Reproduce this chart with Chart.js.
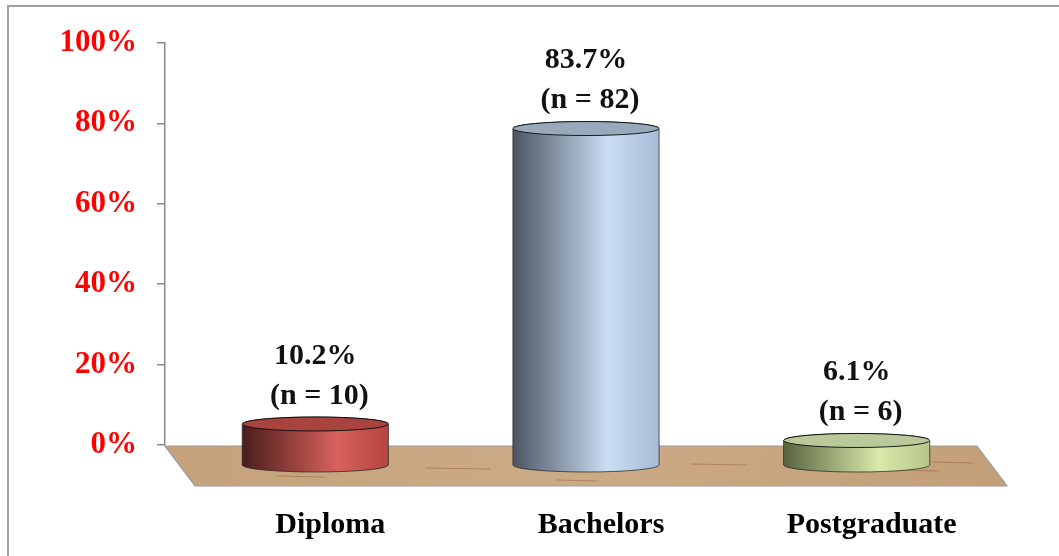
<!DOCTYPE html>
<html><head><meta charset="utf-8">
<script src="https://cdn.jsdelivr.net/npm/chart.js@4"></script>
<style>html,body{margin:0;padding:0;background:#fff}#wrap{width:1059px;height:556px;position:relative}</style>
</head><body><div id="wrap"><canvas id="c" width="1059" height="556"></canvas></div>
<script>
// ---- data ----
const categories = ['Diploma', 'Bachelors', 'Postgraduate'];
const percentages = [10.2, 83.7, 6.1];
const counts = [10, 82, 6];
const yTickValues = [0, 20, 40, 60, 80, 100];

// ---- styling ----
const FONT = '"Liberation Serif", "Times New Roman", serif';
const DX = 30, DY = 40; // floor depth
const cylColors = [
  {dark:'#4a1c1b', light:'#d8625c', edge:'#b4453f', top:'#a9433f'},
  {dark:'#4b5561', light:'#cadef4', edge:'#a6bbd5', top:'#98a9bc'},
  {dark:'#58633e', light:'#d9e9aa', edge:'#b6c68a', top:'#b9c999'}
];

const scene = {
  id: 'scene',
  beforeDraw(chart) {
    const ctx = chart.ctx;
    const {left, right, bottom} = chart.chartArea;
    ctx.save();
    ctx.fillStyle = '#fff';
    ctx.fillRect(0, 0, chart.width, chart.height);
    ctx.strokeStyle = '#a0a0a0';
    ctx.lineWidth = 2;
    ctx.strokeRect(8, 6, 1200, 700);
    // floor
    const y0 = bottom + 1;
    ctx.beginPath();
    ctx.moveTo(left, y0);
    ctx.lineTo(right, y0);
    ctx.lineTo(right + DX, y0 + DY);
    ctx.lineTo(left + DX, y0 + DY);
    ctx.closePath();
    const fg = ctx.createLinearGradient(left, y0, right, y0 + DY);
    fg.addColorStop(0, '#c5a27b');
    fg.addColorStop(0.5, '#cbab86');
    fg.addColorStop(1, '#c3a078');
    ctx.fillStyle = fg;
    ctx.fill();
    ctx.lineWidth = 1.2;
    ctx.strokeStyle = '#9c9c9c';
    ctx.stroke();
    // wood streaks
    ctx.strokeStyle = 'rgba(140,80,50,0.45)';
    ctx.lineWidth = 1;
    const streaks = [[0.11,0.75,0.06],[0.30,0.55,0.08],[0.45,0.85,0.05],[0.63,0.45,0.07],[0.86,0.6,0.07],[0.93,0.4,0.05]];
    streaks.forEach(s => {
      const yy = y0 + DY * s[1];
      const xx = left + DX * s[1] + (right - left) * s[0];
      ctx.beginPath();
      ctx.moveTo(xx, yy);
      ctx.lineTo(xx + (right - left) * s[2], yy + 1);
      ctx.stroke();
    });
    ctx.restore();
  },
  afterDatasetsDraw(chart) {
    const ctx = chart.ctx;
    const meta = chart.getDatasetMeta(0);
    const ys = chart.scales.y;
    const base = ys.getPixelForValue(0) + DY / 2;
    ctx.save();
    meta.data.forEach((bar, i) => {
      const c = cylColors[i];
      const cx = bar.x + DX / 2;
      const rx = bar.width / 2, ry = 7;
      const top = bar.y + DY / 2;
      const g = ctx.createLinearGradient(cx - rx, 0, cx + rx, 0);
      g.addColorStop(0, c.dark);
      g.addColorStop(0.65, c.light);
      g.addColorStop(1, c.edge);
      ctx.beginPath();
      ctx.moveTo(cx - rx, top);
      ctx.lineTo(cx - rx, base);
      ctx.ellipse(cx, base, rx, ry, 0, Math.PI, 0, true);
      ctx.lineTo(cx + rx, top);
      ctx.ellipse(cx, top, rx, ry, 0, 0, Math.PI, true);
      ctx.closePath();
      ctx.fillStyle = g;
      ctx.fill();
      ctx.lineWidth = 1;
      ctx.strokeStyle = 'rgba(40,40,40,0.75)';
      ctx.stroke();
      ctx.beginPath();
      ctx.ellipse(cx, top, rx, ry, 0, 0, Math.PI * 2);
      ctx.fillStyle = c.top;
      ctx.fill();
      ctx.strokeStyle = 'rgba(10,10,10,0.9)';
      ctx.stroke();
      // labels
      ctx.fillStyle = '#111';
      ctx.font = 'bold 30px ' + FONT;
      ctx.textAlign = 'center';
      ctx.textBaseline = 'middle';
      ctx.fillText(percentages[i].toFixed(1) + '%', cx, top - 68);
      ctx.fillText('(n = ' + counts[i] + ')', cx + 4, top - 28);
    });
    ctx.restore();
  }
};

new Chart(document.getElementById('c'), {
  type: 'bar',
  data: {
    labels: categories,
    datasets: [{
      data: percentages,
      backgroundColor: 'rgba(0,0,0,0)',
      borderWidth: 0,
      categoryPercentage: 1,
      barPercentage: 0.54
    }]
  },
  options: {
    responsive: false,
    animation: false,
    devicePixelRatio: 1,
    layout: {padding: {top: 43, right: 82, bottom: 0, left: 0}},
    plugins: {legend: {display: false}, tooltip: {enabled: false}},
    scales: {
      x: {
        grid: {display: false},
        border: {display: false},
        ticks: {
          color: '#000',
          font: {family: FONT, size: 30, weight: 'bold'},
          padding: 54,
          labelOffset: 30,
          maxRotation: 0
        },
        afterFit: s => { s.height = 111; }
      },
      y: {
        min: 0, max: 100,
        afterBuildTicks: s => { s.ticks = yTickValues.map(v => ({value: v})); },
        grid: {drawOnChartArea: false, drawTicks: true, tickLength: 8, color: '#8a8a8a', lineWidth: 1.5},
        border: {display: true, color: '#8a8a8a', width: 1.5},
        ticks: {
          color: '#ff0000',
          font: {family: FONT, size: 31, weight: 'bold'},
          padding: 20,
          callback: v => v + '%'
        },
        afterFit: s => { s.width = 165; }
      }
    }
  },
  plugins: [scene]
});
</script></body></html>
